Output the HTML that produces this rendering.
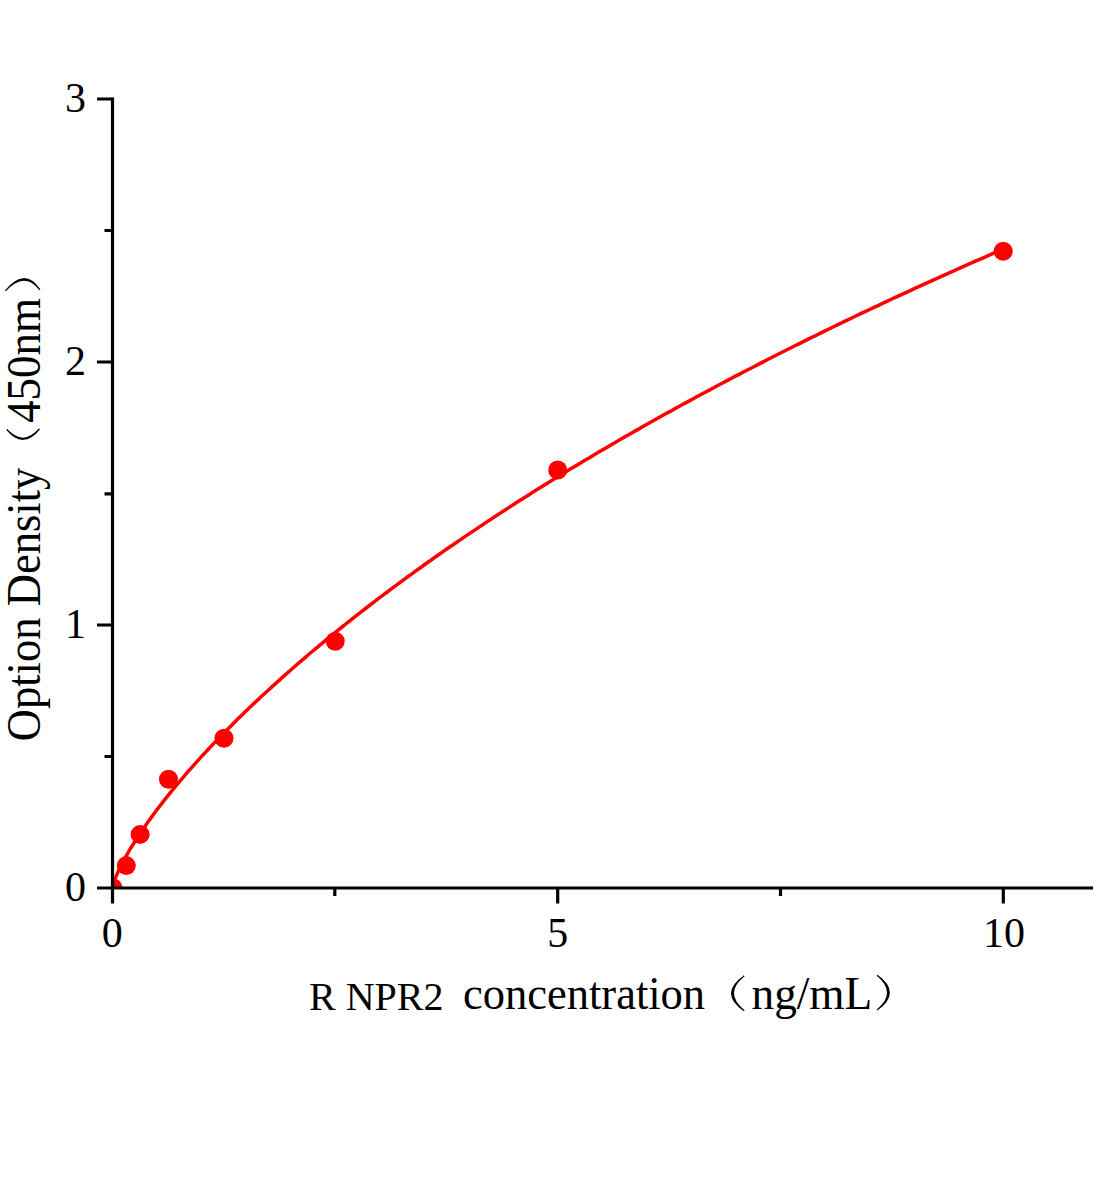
<!DOCTYPE html>
<html><head><meta charset="utf-8">
<style>
html,body{margin:0;padding:0;background:#fff;}
body{width:1104px;height:1200px;overflow:hidden;}
svg{display:block;}
text{font-family:"Liberation Serif",serif;fill:#000;}
</style></head><body>
<svg width="1104" height="1200" viewBox="0 0 1104 1200" xmlns="http://www.w3.org/2000/svg">
<defs><clipPath id="pa"><rect x="112.5" y="0" width="1000" height="888"/></clipPath></defs>
<g clip-path="url(#pa)">
<polyline fill="none" stroke="#f00" stroke-width="3.5" stroke-linejoin="round" points="112.3,888.2 113.2,884.3 114.1,881.6 115.0,879.2 115.9,876.9 116.8,874.8 117.6,872.8 118.5,870.8 119.4,868.9 120.3,867.1 121.2,865.3 122.1,863.6 123.0,861.9 123.9,860.2 124.8,858.6 125.7,856.9 126.6,855.4 127.4,853.8 128.3,852.3 129.2,850.7 130.1,849.2 131.0,847.7 131.9,846.3 132.8,844.8 133.7,843.4 134.6,842.0 135.5,840.6 136.4,839.2 137.2,837.8 138.1,836.4 139.0,835.1 139.9,833.7 140.8,832.4 141.7,831.1 142.6,829.8 143.5,828.5 144.4,827.2 145.3,825.9 146.2,824.6 147.0,823.4 147.9,822.1 148.8,820.8 149.7,819.6 150.6,818.4 151.5,817.1 152.4,815.9 153.3,814.7 154.2,813.5 155.1,812.3 156.0,811.1 156.8,809.9 159.1,807.0 161.3,804.1 163.5,801.2 165.8,798.4 168.0,795.6 170.2,792.8 172.4,790.1 174.7,787.4 176.9,784.7 179.1,782.1 181.4,779.4 183.6,776.8 185.8,774.2 188.0,771.7 190.3,769.1 192.5,766.6 194.7,764.1 196.9,761.6 199.2,759.2 201.4,756.7 203.6,754.3 205.9,751.9 208.1,749.5 210.3,747.1 212.5,744.8 214.8,742.4 217.0,740.1 219.2,737.8 221.4,735.5 223.7,733.2 225.9,730.9 228.1,728.7 230.4,726.4 232.6,724.2 234.8,722.0 237.0,719.8 239.3,717.6 241.5,715.4 243.7,713.3 245.9,711.1 248.2,709.0 250.4,706.8 252.6,704.7 254.9,702.6 257.1,700.5 259.3,698.4 261.5,696.3 263.8,694.3 266.0,692.2 268.2,690.2 270.5,688.1 272.7,686.1 274.9,684.1 277.1,682.1 279.4,680.1 281.6,678.1 283.8,676.1 286.0,674.1 288.3,672.1 290.5,670.2 295.0,666.3 299.4,662.4 303.9,658.6 308.3,654.8 312.8,651.0 317.2,647.3 321.7,643.6 326.1,639.9 330.6,636.3 335.1,632.6 339.5,629.0 344.0,625.5 348.4,621.9 352.9,618.4 357.3,614.9 361.8,611.4 366.2,608.0 370.7,604.5 375.1,601.1 379.6,597.7 384.1,594.4 388.5,591.0 393.0,587.7 397.4,584.4 401.9,581.1 406.3,577.8 410.8,574.6 415.2,571.4 419.7,568.2 424.1,565.0 428.6,561.8 433.1,558.7 437.5,555.5 442.0,552.4 446.4,549.3 450.9,546.2 455.3,543.2 459.8,540.1 464.2,537.1 468.7,534.1 473.2,531.1 477.6,528.1 482.1,525.1 486.5,522.1 491.0,519.2 495.4,516.3 499.9,513.4 504.3,510.5 508.8,507.6 513.2,504.7 517.7,501.8 522.2,499.0 526.6,496.2 531.1,493.4 535.5,490.5 540.0,487.8 544.4,485.0 548.9,482.2 553.3,479.5 557.8,476.7 562.3,474.0 566.7,471.3 571.2,468.6 575.6,465.9 580.1,463.2 584.5,460.5 589.0,457.9 593.4,455.2 597.9,452.6 602.3,450.0 606.8,447.4 611.3,444.8 615.7,442.2 620.2,439.6 624.6,437.0 629.1,434.5 633.5,431.9 638.0,429.4 642.4,426.8 646.9,424.3 651.4,421.8 655.8,419.3 660.3,416.8 664.7,414.3 669.2,411.9 673.6,409.4 678.1,407.0 682.5,404.5 687.0,402.1 691.4,399.7 695.9,397.3 700.4,394.8 704.8,392.5 709.3,390.1 713.7,387.7 718.2,385.3 722.6,383.0 727.1,380.6 731.5,378.3 736.0,375.9 740.5,373.6 744.9,371.3 749.4,369.0 753.8,366.7 758.3,364.4 762.7,362.1 767.2,359.8 771.6,357.5 776.1,355.3 780.5,353.0 785.0,350.8 789.5,348.5 793.9,346.3 798.4,344.1 802.8,341.9 807.3,339.6 811.7,337.4 816.2,335.3 820.6,333.1 825.1,330.9 829.6,328.7 834.0,326.5 838.5,324.4 842.9,322.2 847.4,320.1 851.8,318.0 856.3,315.8 860.7,313.7 865.2,311.6 869.6,309.5 874.1,307.4 878.6,305.3 883.0,303.2 887.5,301.1 891.9,299.0 896.4,296.9 900.8,294.9 905.3,292.8 909.7,290.8 914.2,288.7 918.7,286.7 923.1,284.6 927.6,282.6 932.0,280.6 936.5,278.6 940.9,276.6 945.4,274.6 949.8,272.6 954.3,270.6 958.7,268.6 963.2,266.6 967.7,264.6 972.1,262.7 976.6,260.7 981.0,258.8 985.5,256.8 989.9,254.9 994.4,252.9 998.8,251.0 1003.3,249.1"/>
<g fill="#f00">
<circle cx="112.5" cy="888" r="10"/>
<circle cx="126.3" cy="865.6" r="9.5"/>
<circle cx="140.1" cy="834.4" r="9.5"/>
<circle cx="168.5" cy="779.3" r="9.5"/>
<circle cx="224" cy="738.3" r="9.5"/>
<circle cx="335.2" cy="641.2" r="9.5"/>
<circle cx="557.7" cy="470" r="9.5"/>
<circle cx="1003.2" cy="251.3" r="9.5"/>
</g>
</g>
<g stroke="#000" stroke-width="3.2" stroke-linecap="butt" fill="none">
<path d="M112.5,97.5 V903.5"/>
<path d="M97,888 H1093"/>
<path d="M97,99 H112.5 M97,362 H112.5 M97,625 H112.5"/>
<path d="M104.5,230.5 H112.5 M104.5,493.8 H112.5 M104.5,756.5 H112.5"/>
<path d="M557.7,888 V903.5 M1003.3,888 V903.5"/>
<path d="M334.8,888 V896 M780.5,888 V896"/>
</g>
<g font-size="42" text-anchor="end">
<text x="86" y="111.7">3</text>
<text x="86" y="374.7">2</text>
<text x="86" y="637.7">1</text>
<text x="86" y="900.7">0</text>
</g>
<g font-size="42" text-anchor="middle">
<text x="112.3" y="946.5">0</text>
<text x="557.7" y="946.5">5</text>
<text x="1004" y="946.5">10</text>
</g>
<text x="309" y="1009.8" font-size="40">R NPR2</text>
<g transform="translate(463,1009.3) scale(1,1.06)"><text x="0" y="0" font-size="44.5">concentration</text></g>
<g transform="translate(751.5,1009.2) scale(1,1.04)"><text x="0" y="0" font-size="45.3">ng/mL</text></g>
<path d="M744.2,975.9 Q719.0,993.3 744.2,1010.7 Q722.6,993.3 744.2,975.9Z" fill="#000" stroke="#000" stroke-width="1.2"/>
<path d="M877.1,975.3 Q901.5,992.7 877.0,1010.1 Q898.2,992.7 877.1,975.3Z" fill="#000" stroke="#000" stroke-width="1.2"/>
<g transform="translate(39.7,741.3) rotate(-90) scale(1,1.08)">
<text x="0" y="0" font-size="44.6">Option Density</text>
</g>
<g transform="translate(39.7,423) rotate(-90) scale(1,1.07)">
<text x="0" y="0" font-size="45">450nm</text>
</g>
<path d="M6.8,429.5 Q23.1,449.3 39.4,429.0 Q23.1,447.2 6.8,429.5Z" fill="#000" stroke="#000" stroke-width="1.2"/>
<path d="M5.4,290.8 Q24.6,267.1 39.9,289.9 Q24.6,270.0 5.4,290.8Z" fill="#000" stroke="#000" stroke-width="1.2"/>
</svg>
</body></html>
